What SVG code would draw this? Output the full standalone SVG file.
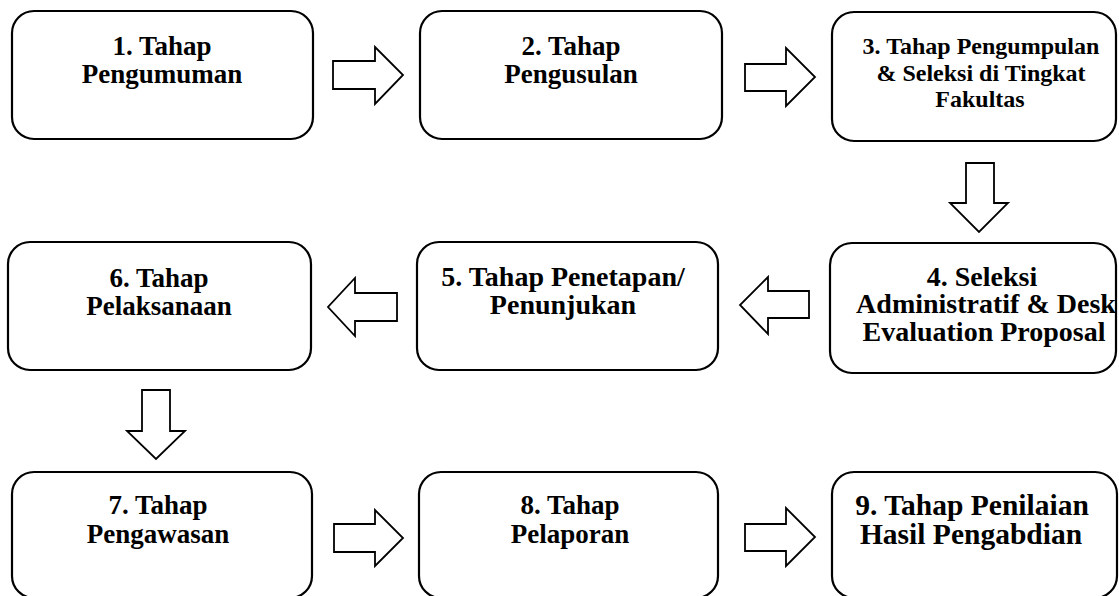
<svg xmlns="http://www.w3.org/2000/svg" width="1119" height="596" viewBox="0 0 1119 596">
<style>
.box{fill:#fff;stroke:#000;stroke-width:2.2}
.arr{fill:#fff;stroke:#000;stroke-width:1.8;stroke-linejoin:miter}
text{font-family:"Liberation Serif","Times New Roman",serif;font-weight:bold;font-size:27px;text-anchor:middle;fill:#000}
.s24{font-size:24px}
.s28{font-size:28px}
.s29{font-size:29.5px}
</style>
<rect width="1119" height="596" fill="#fff"/>
<g id="connectors">
<polygon class="arr" points="333,61 375,61 375,47 403,75 375,104 375,89 333,89"/>
<polygon class="arr" points="745,64 786,64 786,48 815,77 786,106 786,91 745,91"/>
<polygon class="arr" points="966,163 994,163 994,203 1008,203 979,232 950,203 966,203"/>
<polygon class="arr" points="809,291 768,291 768,277 740,305 768,334 768,318 809,318"/>
<polygon class="arr" points="397,293 355,293 355,278 328,307 355,336 355,321 397,321"/>
<polygon class="arr" points="142,390 170,390 170,431 185,431 156,459 127,431 142,431"/>
<polygon class="arr" points="334,524 375,524 375,510 403,538 375,566 375,552 334,552"/>
<polygon class="arr" points="745,524 786,524 786,508 815,537 786,566 786,551 745,551"/>
</g>
<g id="n1"><rect class="box" x="12" y="11" width="301" height="128" rx="22"/><text x="162" y="55">1. Tahap</text><text x="162" y="83">Pengumuman</text></g>
<g id="n2"><rect class="box" x="420" y="11" width="302" height="128" rx="22"/><text x="571" y="55">2. Tahap</text><text x="571" y="83">Pengusulan</text></g>
<g id="n3"><rect class="box" x="832" y="12" width="284" height="129" rx="22"/><text class="s24" x="981" y="54">3. Tahap Pengumpulan</text><text class="s24" x="981" y="81">&amp; Seleksi di Tingkat</text><text class="s24" x="980" y="107">Fakultas</text></g>
<g id="n4"><rect class="box" x="830" y="243" width="286" height="130" rx="22"/><text class="s28" x="982" y="286">4. Seleksi</text><text class="s28" x="986" y="313">Administratif &amp; Desk</text><text class="s28" x="984" y="341">Evaluation Proposal</text></g>
<g id="n5"><rect class="box" x="417" y="242" width="301" height="128" rx="22"/><text class="s28" x="563" y="286">5. Tahap Penetapan/</text><text class="s28" x="563" y="314">Penunjukan</text></g>
<g id="n6"><rect class="box" x="8" y="242" width="303" height="128" rx="22"/><text x="159" y="287">6. Tahap</text><text x="159" y="315">Pelaksanaan</text></g>
<g id="n7"><rect class="box" x="12" y="472" width="300" height="126" rx="22"/><text x="158" y="514">7. Tahap</text><text x="158" y="543">Pengawasan</text></g>
<g id="n8"><rect class="box" x="419" y="472" width="299" height="126" rx="22"/><text x="570" y="514">8. Tahap</text><text x="570" y="543">Pelaporan</text></g>
<g id="n9"><rect class="box" x="832" y="472" width="285" height="126" rx="22"/><text class="s29" x="972" y="515">9. Tahap Penilaian</text><text class="s29" x="971" y="544">Hasil Pengabdian</text></g>
</svg>
